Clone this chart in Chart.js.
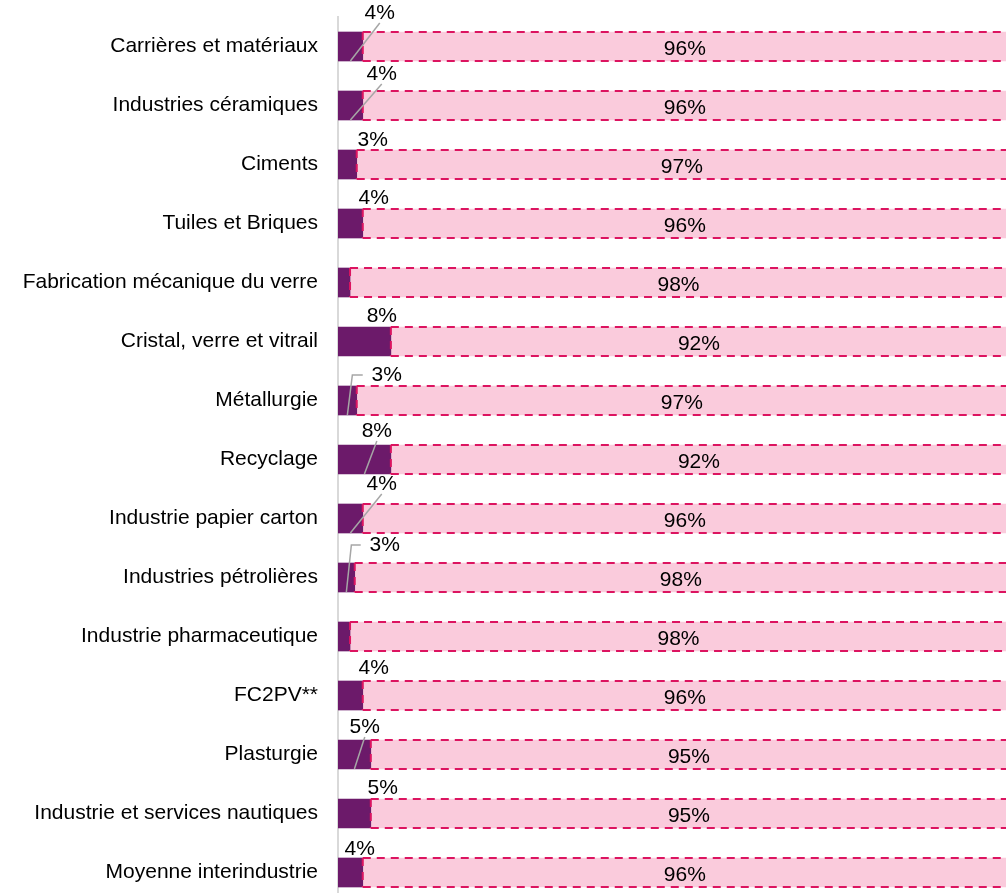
<!DOCTYPE html>
<html><head><meta charset="utf-8">
<script src="https://cdn.jsdelivr.net/npm/chart.js@4"></script>
<style>
html,body{margin:0;padding:0;overflow:hidden;background:#fff}
#wrap{position:absolute;left:0;top:0;width:1020px;height:910px}
</style>
</head><body>
<div id="wrap"><canvas id="c"></canvas></div>
<script>
const categories = [
  "Carrières et matériaux",
  "Industries céramiques",
  "Ciments",
  "Tuiles et Briques",
  "Fabrication mécanique du verre",
  "Cristal, verre et vitrail",
  "Métallurgie",
  "Recyclage",
  "Industrie papier carton",
  "Industries pétrolières",
  "Industrie pharmaceutique",
  "FC2PV**",
  "Plasturgie",
  "Industrie et services nautiques",
  "Moyenne interindustrie"
];
const darkShare = [3.7, 3.7, 2.8, 3.7, 1.8, 7.9, 2.8, 7.9, 3.7, 2.5, 1.8, 3.7, 4.9, 4.9, 3.7];
const pinkShare = [96.3, 96.3, 97.2, 96.3, 98.2, 92.1, 97.2, 92.1, 96.3, 97.5, 98.2, 96.3, 95.1, 95.1, 96.3];

// label placement (style): [dx from dark bar end, dy from bar top] for the small-segment labels
const darkLabelNudge = [
  [17,-19],[19,-17],[16,-10],[11,-11],null,[-9,-11],[30,-11],[-14,-14],
  [19,-20],[30,-18],null,[11,-13],[-6,-13],[12,-11],[-3,-9]
];
const leaderType = ["line","line",null,null,null,null,"elbow","line","line","elbow",null,null,"line",null,null];

const FONT = '"Liberation Sans", Arial, sans-serif';
const pct = v => Math.round(v) + '%';

const overlay = {
  id: 'overlay',
  afterDatasetsDraw(chart) {
    const ctx = chart.ctx;
    const dark = chart.getDatasetMeta(0).data;
    const pink = chart.getDatasetMeta(1).data;
    ctx.save();
    ctx.strokeStyle = '#DC1460';
    ctx.lineWidth = 2;
    ctx.setLineDash([8, 6]);
    pink.forEach(b => {
      const h = b.height, top = b.y - h / 2, bot = b.y + h / 2;
      const l = Math.min(b.base, b.x), r = Math.max(b.base, b.x);
      ctx.beginPath(); ctx.moveTo(l, top); ctx.lineTo(r, top); ctx.stroke();
      ctx.beginPath(); ctx.moveTo(l, bot); ctx.lineTo(r, bot); ctx.stroke();
      ctx.beginPath(); ctx.moveTo(l, top); ctx.lineTo(l, bot); ctx.stroke();
    });
    ctx.setLineDash([]);
    ctx.font = '21px ' + FONT;
    ctx.fillStyle = '#000';
    ctx.textAlign = 'center';
    ctx.textBaseline = 'middle';
    pink.forEach((b, i) => {
      ctx.fillText(pct(pinkShare[i]), (b.base + b.x) / 2, b.y + 3);
    });
    dark.forEach((b, i) => {
      const n = darkLabelNudge[i];
      if (!n || darkShare[i] < 2) return;
      const top = b.y - b.height / 2, bot = b.y + b.height / 2;
      const cx = b.x + n[0], cy = top + n[1];
      const lt = leaderType[i];
      if (lt) {
        ctx.strokeStyle = '#A6A6A6';
        ctx.lineWidth = 1.5;
        const sx = (b.base + b.x) / 2;
        ctx.beginPath();
        ctx.moveTo(sx, bot);
        if (lt === 'line') {
          ctx.lineTo(cx, cy + 10);
        } else {
          ctx.lineTo(sx + 5, cy);
          ctx.lineTo(cx - 24, cy);
        }
        ctx.stroke();
      }
      ctx.fillStyle = '#000';
      ctx.fillText(pct(darkShare[i]), cx, cy);
    });
    ctx.restore();
  }
};

new Chart(document.getElementById('c'), {
  type: 'bar',
  data: {
    labels: categories,
    datasets: [
      { data: darkShare, backgroundColor: '#6C1A6A', borderWidth: 0, barThickness: 29 },
      { data: pinkShare, backgroundColor: '#FACBDC', borderWidth: 0, barThickness: 29 }
    ]
  },
  options: {
    indexAxis: 'y',
    responsive: true,
    maintainAspectRatio: false,
    animation: false,
    layout: { padding: { left: 0, top: 17, right: 13, bottom: 8 } },
    plugins: { legend: { display: false }, tooltip: { enabled: false } },
    scales: {
      x: { stacked: true, min: 0, max: 100, display: false },
      y: {
        stacked: true,
        grid: { display: false, drawTicks: false },
        border: { display: true, color: '#D9D9D9', width: 2 },
        ticks: { color: '#000', padding: 20, font: { family: FONT, size: 21 } },
        afterFit(scale) { scale.width = 338; scale.paddingTop = 0; scale.paddingBottom = 0; }
      }
    }
  },
  plugins: [overlay]
});
</script>
</body></html>
